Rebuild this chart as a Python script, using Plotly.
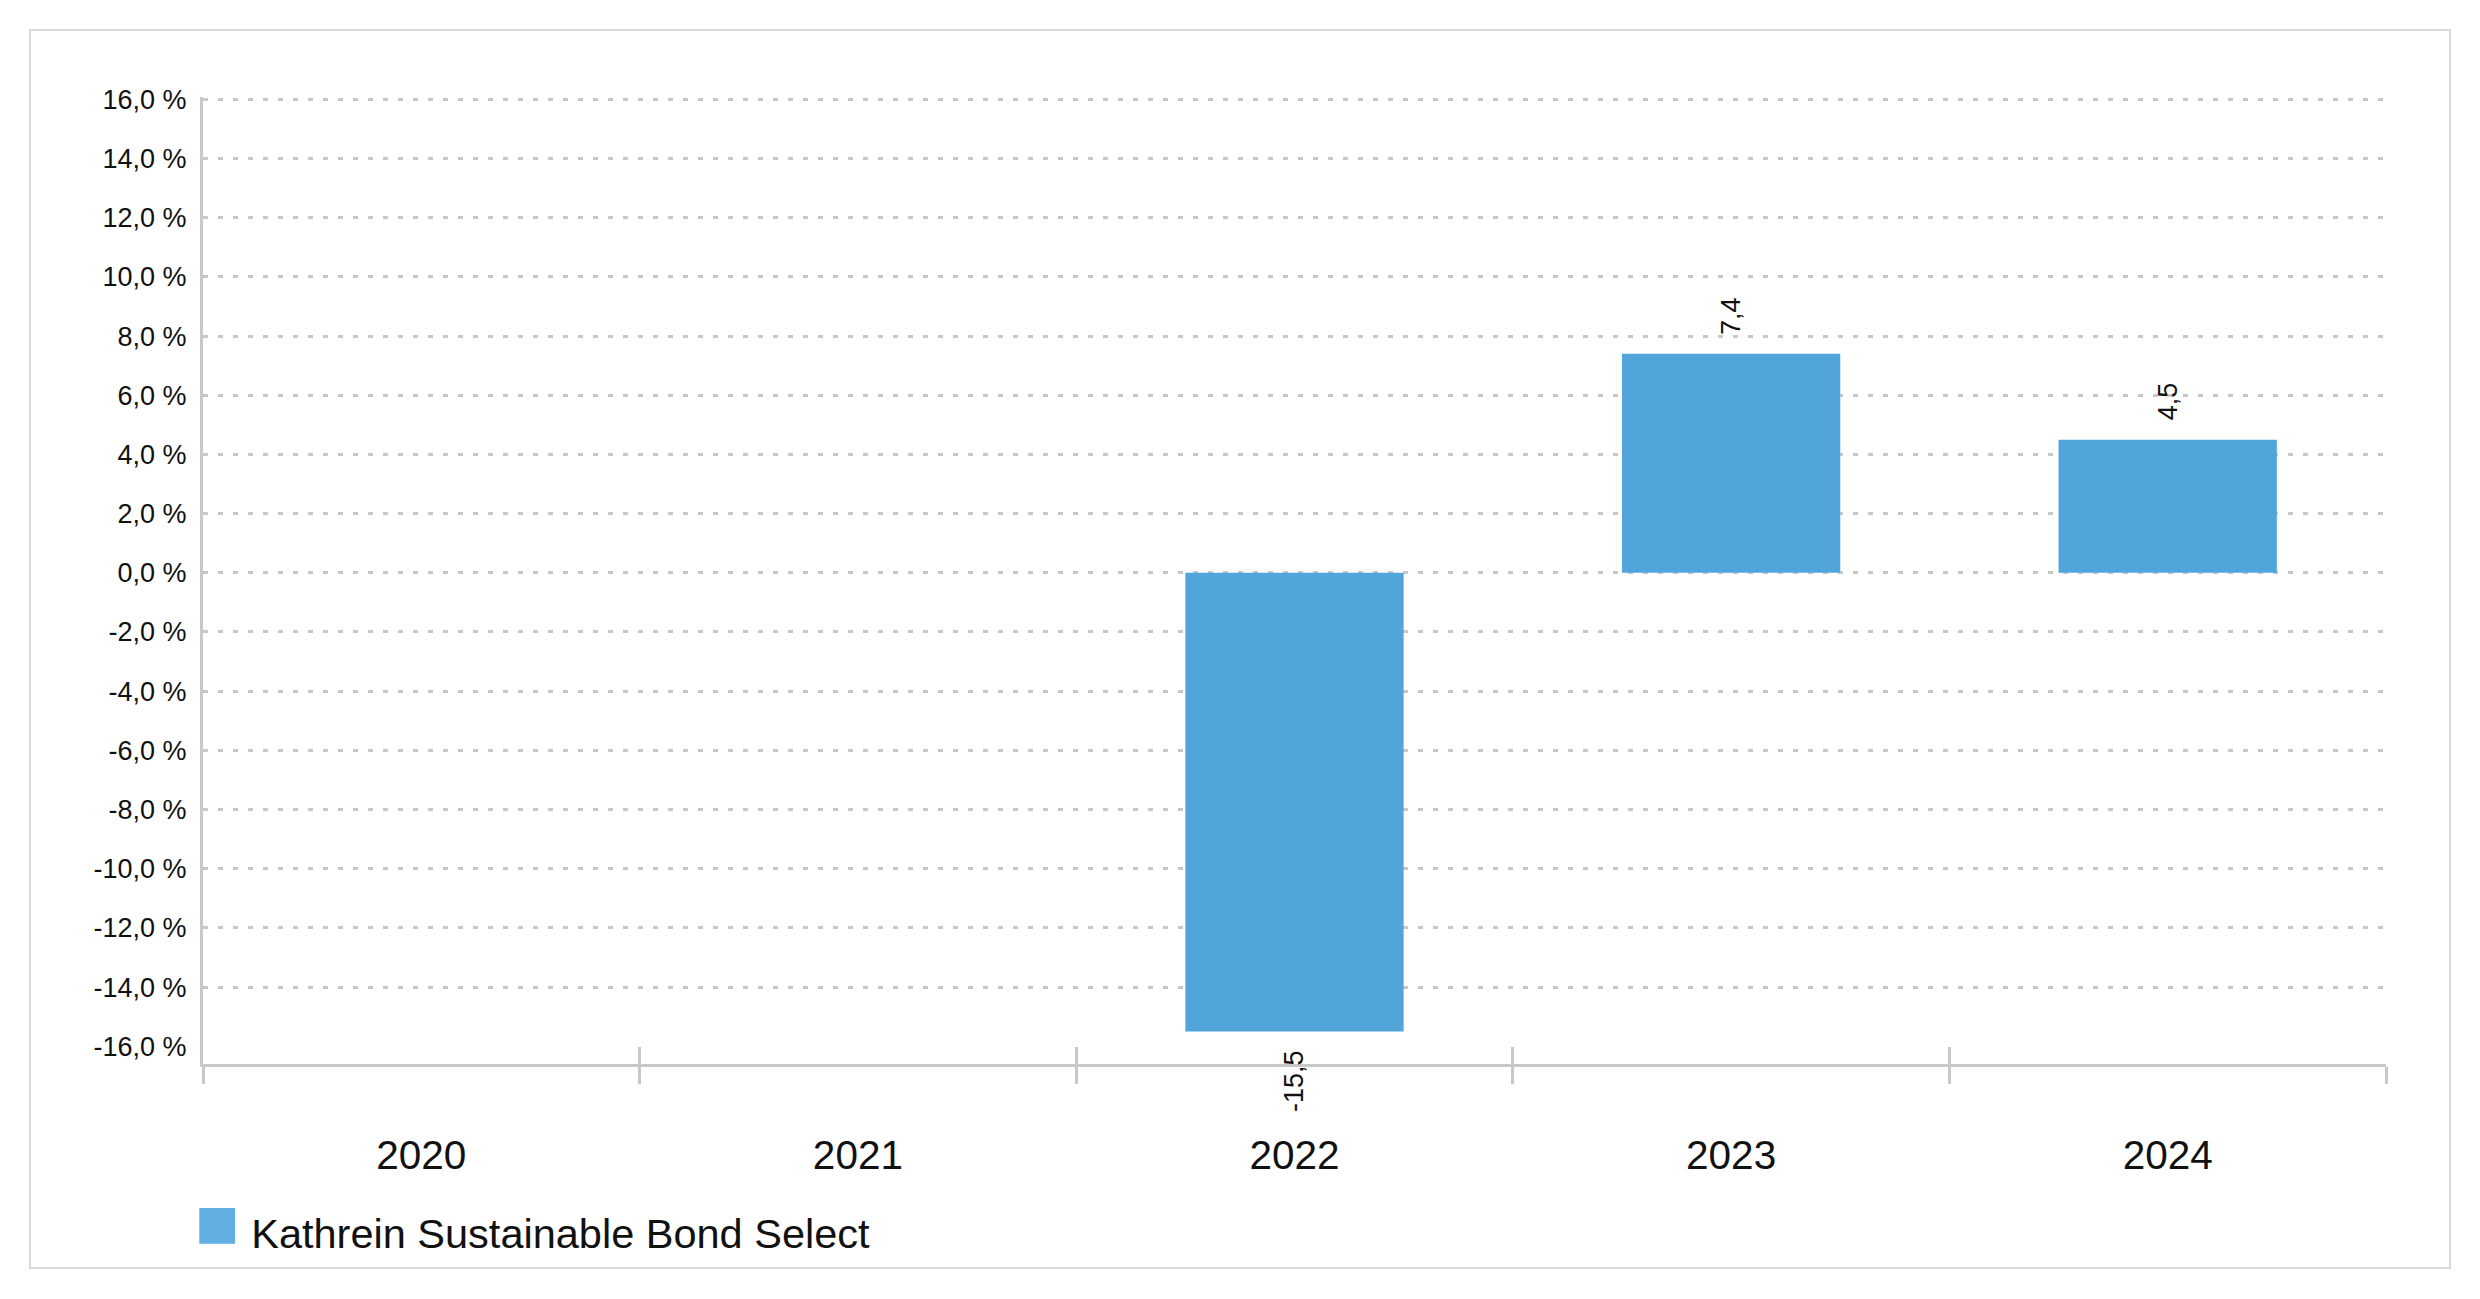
import plotly.graph_objects as go

# ---- data ----
years = ["2020", "2021", "2022", "2023", "2024"]
returns = [None, None, -15.5, 7.4, 4.5]
series_name = "Kathrein Sustainable Bond Select"
y_ticks = [-16, -14, -12, -10, -8, -6, -4, -2, 0, 2, 4, 6, 8, 10, 12, 14, 16]
y_tick_labels = [f"{v:.1f} %".replace(".", ",") for v in y_ticks]
grid_ticks = [v for v in y_ticks if v > y_ticks[0]]

# ---- style ----
W, H = 2480, 1299
ML, MR, MT, MB = 203, 94, 97, 235
FONT = "Liberation Sans, Arial, sans-serif"
BAR = "#51a5da"
LEG = "#62b0e3"
AXC = "#c8c8c8"
TXT = "#111111"
PW = W - ML - MR
PH = H - MT - MB
YR = [-16.6, 16.08]
XR = [-0.5, 4.5]

fig = go.Figure()
fig.add_trace(go.Bar(
    x=years, y=returns, name=series_name,
    marker=dict(color=BAR, line=dict(width=0)),
    width=0.5, showlegend=False, hoverinfo="x+y",
))
# empty helper trace so the overlay axes (grid + inner ticks) get drawn
fig.add_trace(go.Scatter(
    x=[], y=[], xaxis="x2", yaxis="y2", showlegend=False,
    hoverinfo="skip", mode="markers",
))

annotations = []
for i, (yr, v) in enumerate(zip(years, returns)):
    if v is None:
        continue
    annotations.append(dict(
        x=i, y=v, xref="x", yref="y",  # category serial index of yr
        text=f"{v:.1f}".replace(".", ","),
        textangle=-90, showarrow=False,
        yanchor="bottom" if v >= 0 else "top",
        yshift=17 if v >= 0 else -17,
        font=dict(family=FONT, size=27, color=TXT),
    ))

# legend (drawn as text with a coloured square glyph)
annotations.append(dict(
    x=-10 / PW, y=-(1222 - (H - MB)) / PH,
    xref="paper", yref="paper", xanchor="left", yanchor="middle",
    showarrow=False, align="left",
    text=f'<span style="color:{LEG};font-size:74px">■</span> {series_name}',
    font=dict(family=FONT, size=41.5, color=TXT),
))

# outer frame
shapes = [dict(
    type="rect", xref="paper", yref="paper", layer="below",
    x0=(30 - ML) / PW, x1=(2450 - ML) / PW,
    y0=-(1268 - (H - MB)) / PH, y1=((H - MB) - 30) / PH,
    line=dict(color="#d9d9d9", width=2), fillcolor="rgba(0,0,0,0)",
)]

fig.update_layout(
    width=W, height=H,
    margin=dict(l=ML, r=MR, t=MT, b=MB, pad=0),
    paper_bgcolor="white", plot_bgcolor="white",
    font=dict(family=FONT, color=TXT),
    showlegend=False,
    annotations=annotations,
    shapes=shapes,
    xaxis=dict(
        type="category", categoryorder="array", categoryarray=years,
        tickson="boundaries", ticks="outside", ticklen=17, tickwidth=3,
        tickcolor=AXC, showline=True, linecolor=AXC, linewidth=3,
        showgrid=False, zeroline=False,
        tickfont=dict(family=FONT, size=40.5, color=TXT),
        ticklabelstandoff=53,
        range=XR,
    ),
    xaxis2=dict(
        overlaying="x", anchor="y", side="bottom",
        range=XR, tickvals=[-0.5, 0.5, 1.5, 2.5, 3.5, 4.5],
        ticks="inside", ticklen=17, tickwidth=3, tickcolor=AXC,
        showticklabels=False, showgrid=False, showline=False, zeroline=False,
    ),
    yaxis=dict(
        range=YR, tickvals=y_ticks, ticktext=y_tick_labels,
        showgrid=False, zeroline=False, showline=True, linecolor=AXC,
        linewidth=3, ticks="", ticklabelstandoff=8,
        tickfont=dict(family=FONT, size=27, color=TXT),
    ),
    yaxis2=dict(
        overlaying="y", anchor="x", side="left",
        range=YR, tickvals=grid_ticks,
        showgrid=True, gridcolor=AXC, gridwidth=2.5, griddash="5px,10px",
        showticklabels=False, zeroline=False, showline=False, ticks="",
    ),
)

fig.write_html("out.html", config={"displayModeBar": False},
               post_script="document.body.style.margin='0';")
